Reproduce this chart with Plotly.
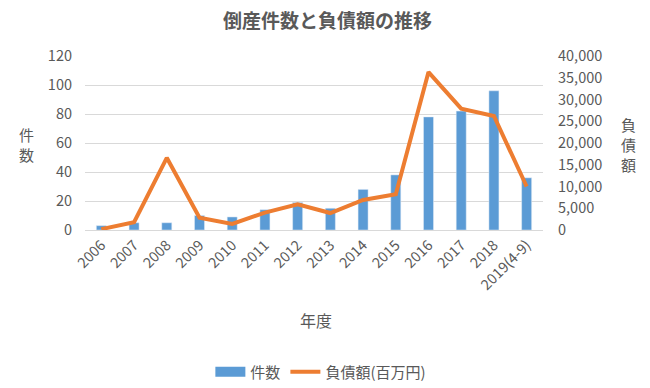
import plotly.graph_objects as go

years = ["2006", "2007", "2008", "2009", "2010", "2011", "2012", "2013",
         "2014", "2015", "2016", "2017", "2018", "2019(4-9)"]
counts = [3, 5, 5, 10, 9, 14, 19, 15, 28, 38, 78, 82, 96, 36]
debt = [200, 1800, 16600, 2800, 1400, 4000, 5900, 3900, 6900, 8200, 36300, 27900, 26200, 10000]

FONT = "Noto Sans CJK JP"
GRAY = "#595959"
BLUE = "#5B9BD5"
ORANGE = "#ED7D31"

# page body has an 8px default margin, so the figure is sized/offset to compensate
W, H = 642, 380
L, R, T, B = 77, 107, 48, 158

fig = go.Figure()
fig.add_trace(go.Bar(x=years, y=counts, name="件数", marker_color=BLUE,
                     yaxis="y", showlegend=False))
fig.add_trace(go.Scatter(x=[None], y=[None], mode="lines", name="件数",
                         line=dict(color=BLUE, width=10), yaxis="y",
                         hoverinfo="skip"))
fig.add_trace(go.Scatter(x=years, y=debt, name="負債額(百万円)", mode="lines",
                         line=dict(color=ORANGE, width=4), yaxis="y2"))

fig.update_layout(
    width=W, height=H,
    margin=dict(l=L, r=R, t=T, b=B, autoexpand=False),
    paper_bgcolor="white", plot_bgcolor="white",
    font=dict(family=FONT, color=GRAY, size=14),
    bargap=0.694,
    title=dict(text="<b>倒産件数と負債額の推移</b>", x=319.5 / W, xanchor="center",
               y=1 - 13 / H, yanchor="middle",
               font=dict(size=19, color=GRAY, family=FONT)),
    xaxis=dict(tickangle=-45, showgrid=False, showline=True, linecolor="#D9D9D9",
               tickfont=dict(size=14.5, color=GRAY), ticks="", automargin=False),
    yaxis=dict(range=[0, 120], dtick=20, showgrid=True, gridcolor="#D9D9D9",
               zeroline=False, tickfont=dict(size=14.5, color=GRAY), ticks="",
               ticklabelstandoff=12, automargin=False),
    yaxis2=dict(range=[0, 40000], dtick=5000, overlaying="y", side="right",
                showgrid=False, zeroline=False, tickformat=",", automargin=False,
                tickfont=dict(size=14.5, color=GRAY), ticks="", ticklabelstandoff=14),
    legend=dict(orientation="h", x=0.515, xanchor="center", y=-0.816, yanchor="middle",
                font=dict(size=15, color=GRAY)),
    showlegend=True,
)

def side_char(ch, xs, ys, size=15):
    # xs, ys in screen pixels
    fx = ((xs - 8) - L) / (W - L - R)
    fy = (H - B - (ys - 8)) / (H - T - B)
    fig.add_annotation(text=ch, xref="paper", yref="paper", x=fx, y=fy,
                       xanchor="center", yanchor="middle", showarrow=False,
                       borderpad=0, font=dict(size=size, color=GRAY))

side_char("件", 26, 134)
side_char("数", 26, 154)
side_char("負", 628, 124)
side_char("債", 628, 144)
side_char("額", 628, 164)
side_char("年度", 316, 320, 16)

fig.write_html("out.html", config={"displayModeBar": False})
